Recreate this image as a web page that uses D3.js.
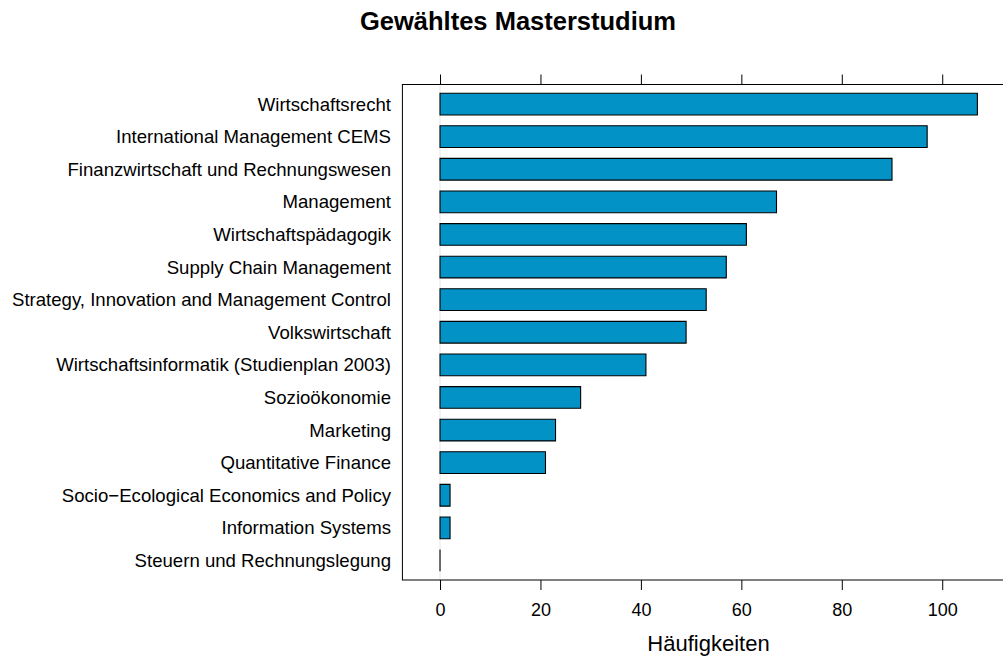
<!DOCTYPE html>
<html><head><meta charset="utf-8">
<script src="https://cdn.jsdelivr.net/npm/d3@7"></script>
<style>body{margin:0;background:#fff}svg{display:block}text{font-family:"Liberation Sans",Arial,sans-serif}</style>
</head><body><svg id="c" width="1003" height="659"></svg>
<script>
const categories = ["Wirtschaftsrecht","International Management CEMS","Finanzwirtschaft und Rechnungswesen","Management","Wirtschaftspädagogik","Supply Chain Management","Strategy, Innovation and Management Control","Volkswirtschaft","Wirtschaftsinformatik (Studienplan 2003)","Sozioökonomie","Marketing","Quantitative Finance","Socio\u2212Ecological Economics and Policy","Information Systems","Steuern und Rechnungslegung"];
const values = [107,97,90,67,61,57,53,49,41,28,23,21,2,2,0];
const xTicks = [0,20,40,60,80,100];
const title = "Gewähltes Masterstudium";
const xLabel = "Häufigkeiten";

const svg = d3.select("#c");
const L = 402.4, R = 1015, T = 84.5, B = 580;
const x = d3.scaleLinear().domain([-7.49, 114.49]).range([L, R]);
const y = d3.scalePoint().domain(categories).range([T, B]).padding(0.6);
const bh = y.step() * 2 / 3;
const g = svg.append("g");
g.append("line").attr("x1", x(0)).attr("x2", x(0)).attr("y1", T).attr("y2", B)
  .attr("stroke", "#e6e6e6").attr("stroke-width", 1);
g.selectAll("path.bar").data(values).join("path").attr("class","bar")
  .attr("d", (d,i) => {
    const y0 = y(categories[i]) - bh/2, x0 = x(0), w = x(d) - x(0);
    return `M${x0},${y0}h${w}v${bh}h${-w}Z`;
  })
  .attr("fill", "#0392c6").attr("stroke", "#000").attr("stroke-width", 1.1);
g.append("rect").attr("x", L).attr("y", T).attr("width", R-L).attr("height", B-T)
  .attr("fill", "none").attr("stroke", "#000").attr("stroke-width", 1);
const axB = d3.axisBottom(x).tickValues(xTicks).tickSize(10).tickPadding(13).tickSizeOuter(0);
const gb = svg.append("g").attr("transform", `translate(0,${B})`).call(axB);
gb.select(".domain").remove();
gb.selectAll("text").attr("font-size", 18).attr("fill","#000").attr("font-family","Liberation Sans, Arial, sans-serif");
gb.selectAll("line").attr("stroke","#000");
const axT = d3.axisTop(x).tickValues(xTicks).tickSize(10).tickFormat("");
const gt = svg.append("g").attr("transform", `translate(0,${T})`).call(axT);
gt.select(".domain").remove();
gt.selectAll("line").attr("stroke","#000");
svg.selectAll("text.cat").data(categories).join("text").attr("class","cat")
  .attr("x", 391).attr("y", d=>y(d)).attr("dy","0.35em")
  .attr("text-anchor","end").attr("font-size",18.6).attr("fill","#000").text(d=>d);
svg.append("text").attr("x", 518).attr("y", 30).attr("text-anchor","middle")
  .attr("font-size", 25.5).attr("font-weight","bold").text(title);
svg.append("text").attr("x", 708.5).attr("y", 651).attr("text-anchor","middle")
  .attr("font-size", 22).text(xLabel);
</script></body></html>
